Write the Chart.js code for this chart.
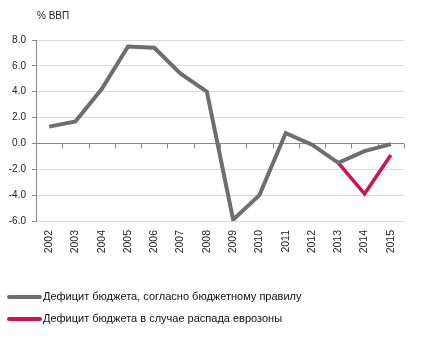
<!DOCTYPE html>
<html><head><meta charset="utf-8">
<script src="https://cdn.jsdelivr.net/npm/chart.js@4"></script>
<style>
html,body{margin:0;padding:0;background:#fff;}
#wrap{position:relative;width:431px;height:338px;font-family:"Liberation Sans",Arial,sans-serif;color:#222;}
canvas{position:absolute;left:0;top:0;}
#ytitle{position:absolute;left:37px;top:10px;font-size:10px;color:#222;}
.leg{position:absolute;left:7px;font-size:11px;color:#111;white-space:nowrap;}
.leg span.ln{display:inline-block;width:35px;height:4px;border-radius:2px;vertical-align:middle;margin-right:1px;}
</style></head><body>
<div id="wrap">
<canvas id="c" width="431" height="338"></canvas>
<div id="ytitle">% ВВП</div>
<div class="leg" style="top:290px"><span class="ln" style="background:#6e6e6e"></span>Дефицит бюджета, согласно бюджетному правилу</div>
<div class="leg" style="top:312px"><span class="ln" style="background:#d1105a"></span>Дефицит бюджета в случае распада еврозоны</div>
</div>
<script>
const years = ['2002','2003','2004','2005','2006','2007','2008','2009','2010','2011','2012','2013','2014','2015'];
const budgetRule = [1.3, 1.7, 4.2, 7.5, 7.4, 5.4, 4.0, -5.9, -4.0, 0.8, -0.1, -1.5, -0.6, -0.05];
const euroBreakup = [null, null, null, null, null, null, null, null, null, null, null, -1.5, -3.9, -0.9];
const yTicks = [8, 6, 4, 2, 0, -2, -4, -6];

const zeroAxis = {
  id: 'zeroAxis',
  beforeDatasetsDraw(chart) {
    const x = chart.scales.x, y = chart.scales.y, c = chart.ctx;
    const y0 = Math.round(y.getPixelForValue(0)) + 0.5;
    c.save();
    c.strokeStyle = '#8a8a8a';
    c.lineWidth = 1;
    c.beginPath();
    c.moveTo(x.left, y0); c.lineTo(x.right, y0);
    for (let i = 0; i <= years.length; i++) {
      const px = Math.round(i < years.length ? x.getPixelForValue(i) - (x.getPixelForValue(1) - x.getPixelForValue(0)) / 2 : x.right) + 0.5;
      c.moveTo(px, y0); c.lineTo(px, y0 + 5);
    }
    c.stroke();
    c.restore();
  }
};

new Chart(document.getElementById('c'), {
  type: 'line',
  data: {
    labels: years,
    datasets: [
      { data: budgetRule, borderColor: '#6e6e6e', borderWidth: 4, pointRadius: 0, tension: 0, borderJoinStyle: 'miter' },
      { data: euroBreakup, borderColor: '#d1105a', borderWidth: 3.5, pointRadius: 0, tension: 0, spanGaps: false }
    ]
  },
  options: {
    responsive: false,
    animation: false,
    devicePixelRatio: 1,
    layout: { padding: { top: 40, right: 27, left: 0, bottom: 0 } },
    plugins: { legend: { display: false }, tooltip: { enabled: false } },
    scales: {
      x: {
        type: 'category',
        offset: true,
        grid: { display: false, drawTicks: false },
        border: { display: false },
        ticks: {
          minRotation: 90, maxRotation: 90, padding: 9, autoSkip: false,
          color: '#222', font: { family: 'Liberation Sans, Arial', size: 10.5 }
        },
        afterFit(s) { s.height = 117; }
      },
      y: {
        min: -6, max: 8,
        afterBuildTicks(s) { s.ticks = yTicks.map(v => ({ value: v })); },
        grid: {
          color: '#d9d9d9',
          tickColor: '#8a8a8a',
          tickLength: 4,
          lineWidth: 1
        },
        border: { display: true, color: '#8a8a8a', width: 1 },
        ticks: {
          padding: 6,
          color: '#222',
          font: { family: 'Liberation Sans, Arial', size: 10 },
          callback: (v) => Number(v).toFixed(1)
        },
        afterFit(s) { s.width = 36; }
      }
    }
  },
  plugins: [zeroAxis]
});
</script>
</body></html>
